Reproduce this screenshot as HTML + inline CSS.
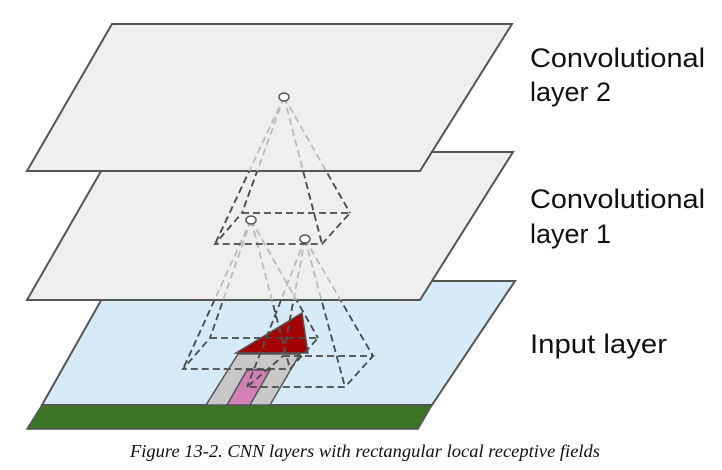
<!DOCTYPE html>
<html><head><meta charset="utf-8"><style>
html,body{margin:0;padding:0;background:#fff;width:722px;height:470px;overflow:hidden}
</style></head><body>
<svg width="722" height="470" viewBox="0 0 722 470" xmlns="http://www.w3.org/2000/svg">
<defs>
<clipPath id="outMid"><path d="M0,0H722V470H0Z M27,300 L112,152 L513,152 L420,300Z" clip-rule="evenodd"/></clipPath>
<clipPath id="outTop"><path d="M0,0H722V470H0Z M27,171 L112,24 L512,24 L420,171Z" clip-rule="evenodd"/></clipPath>
</defs>
<polygon points="42,405 112,281 515,281 432,405" fill="#d6eaf8" stroke="#555" stroke-width="2"/>
<polygon points="27,429 42,405 432,405 418,429" fill="#3c7425" stroke="#555" stroke-width="1.5"/>
<polygon points="238,354 300,354 270,405 206,405" fill="#c8c8c8" stroke="#555" stroke-width="1.5"/>
<polygon points="247,370 270,370 250,405 227,405" fill="#d27fb6" stroke="#555" stroke-width="1.5"/>
<polygon points="236,353 302,313 308,353" fill="#a30000" stroke="#555" stroke-width="1.5"/>
<g fill="none" stroke="#4a4a4a" stroke-width="1.8" stroke-dasharray="7,4">
<polygon points="210,338 318,338 290,369 183,369"/>
<polygon points="283,356 373,356 345,387 247,387"/>
</g>
<polygon points="27,300 112,152 513,152 420,300" fill="#efefef" stroke="#555" stroke-width="2"/>
<g stroke-width="1.8" stroke-dasharray="7,4" fill="none">
<g stroke="#bbb">
<line x1="251" y1="220" x2="210" y2="338"/><line x1="251" y1="220" x2="318" y2="338"/>
<line x1="251" y1="220" x2="183" y2="369"/><line x1="251" y1="220" x2="290" y2="369"/>
<line x1="305" y1="239" x2="283" y2="356"/><line x1="305" y1="239" x2="373" y2="356"/>
<line x1="305" y1="239" x2="247" y2="387"/><line x1="305" y1="239" x2="345" y2="387"/>
</g>
<g stroke="#4a4a4a" clip-path="url(#outMid)">
<line x1="251" y1="220" x2="210" y2="338"/><line x1="251" y1="220" x2="318" y2="338"/>
<line x1="251" y1="220" x2="183" y2="369"/><line x1="251" y1="220" x2="290" y2="369"/>
<line x1="305" y1="239" x2="283" y2="356"/><line x1="305" y1="239" x2="373" y2="356"/>
<line x1="305" y1="239" x2="247" y2="387"/><line x1="305" y1="239" x2="345" y2="387"/>
</g>
<polygon points="242,213 350,213 322,244 215,244" stroke="#4a4a4a"/>
</g>
<ellipse cx="251" cy="220" rx="5" ry="4" fill="#fff" stroke="#555" stroke-width="1.5"/>
<ellipse cx="305" cy="239" rx="5" ry="4" fill="#fff" stroke="#555" stroke-width="1.5"/>
<polygon points="27,171 112,24 512,24 420,171" fill="#efefef" stroke="#555" stroke-width="2"/>
<g stroke-width="1.8" stroke-dasharray="7,4" fill="none">
<g stroke="#bbb">
<line x1="284" y1="97" x2="242" y2="213"/><line x1="284" y1="97" x2="350" y2="213"/>
<line x1="284" y1="97" x2="215" y2="244"/><line x1="284" y1="97" x2="322" y2="244"/>
</g>
<g stroke="#4a4a4a" clip-path="url(#outTop)">
<line x1="284" y1="97" x2="242" y2="213"/><line x1="284" y1="97" x2="350" y2="213"/>
<line x1="284" y1="97" x2="215" y2="244"/><line x1="284" y1="97" x2="322" y2="244"/>
</g>
</g>
<ellipse cx="284" cy="97" rx="5" ry="4" fill="#fff" stroke="#555" stroke-width="1.5"/>
<g font-family="Liberation Sans, sans-serif" font-size="27" fill="#111">
<text x="530" y="67" textLength="175" lengthAdjust="spacingAndGlyphs">Convolutional</text>
<text x="530" y="101">layer 2</text>
<text x="530" y="208" textLength="175" lengthAdjust="spacingAndGlyphs">Convolutional</text>
<text x="530" y="243">layer 1</text>
<text x="530" y="353" textLength="137" lengthAdjust="spacingAndGlyphs">Input layer</text>
</g>
<text x="130" y="457" textLength="470" lengthAdjust="spacingAndGlyphs" font-family="Liberation Serif, serif" font-style="italic" font-size="18" fill="#111">Figure 13-2. CNN layers with rectangular local receptive fields</text>
</svg>
</body></html>
